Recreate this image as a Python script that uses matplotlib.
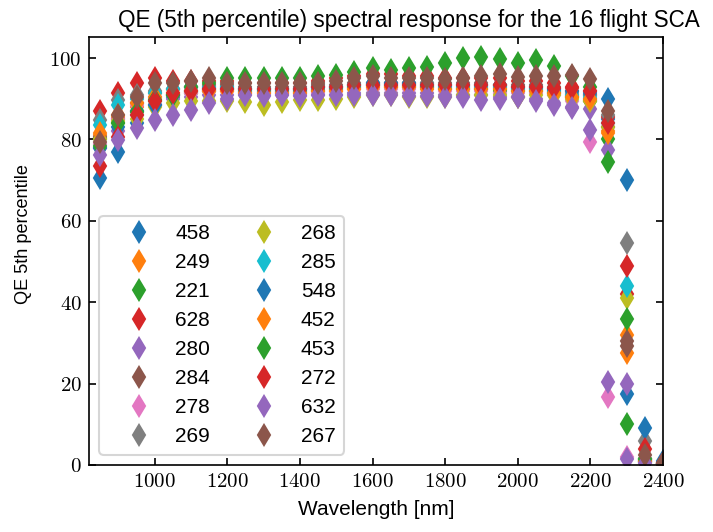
import numpy as np
import matplotlib
matplotlib.use('Agg')
import matplotlib.pyplot as plt
from matplotlib.ticker import FuncFormatter

plt.rcParams.update({
    'font.size': 10,
    'font.family': ['Liberation Sans', 'DejaVu Sans'],
    'mathtext.fontset': 'cm',
    'xtick.direction': 'in', 'ytick.direction': 'in',
    'xtick.top': True, 'ytick.right': True,
})

wavelength = [850, 900, 950, 1000, 1050, 1100, 1150, 1200, 1250, 1300, 1350,
              1400, 1450, 1500, 1550, 1600, 1650, 1700, 1750, 1800, 1850, 1900,
              1950, 2000, 2050, 2100, 2150, 2200, 2250, 2300, 2350, 2400]

sca_ids = ['458', '249', '221', '628', '280', '284', '278', '269',
           '268', '285', '548', '452', '453', '272', '632', '267']

qe_458 = [70.5, 77.0, 84.0, 88.5, 90.5, 91.5, 92.0, 92.5, 92.0, 92.0, 92.0, 92.0, 92.5, 92.5, 93.0, 93.5,
          93.5, 93.5, 93.0, 93.0, 93.0, 93.0, 93.0, 92.5, 92.5, 92.0, 91.0, 90.0, 85.0, 17.5, 1.0, 0.3]
qe_249 = [81.0, 85.5, 88.0, 90.0, 91.0, 91.5, 92.0, 92.0, 91.5, 91.5, 91.5, 91.5, 92.0, 92.0, 92.5, 93.0,
          93.0, 93.0, 93.0, 92.5, 92.5, 92.5, 92.5, 92.0, 92.0, 91.5, 90.5, 89.5, 82.0, 32.0, 1.0, 0.3]
qe_221 = [80.0, 84.0, 87.0, 89.5, 91.0, 92.0, 92.5, 92.5, 92.0, 92.0, 92.0, 92.0, 92.0, 92.5, 93.0, 93.5,
          93.0, 93.0, 93.0, 92.5, 92.5, 92.5, 92.0, 92.0, 92.0, 91.5, 90.5, 89.5, 80.0, 10.0, 0.8, 0.2]
qe_628 = [87.0, 91.5, 93.8, 95.0, 94.5, 94.5, 94.5, 94.5, 94.0, 94.0, 94.0, 94.0, 94.5, 95.0, 95.5, 96.0,
          96.0, 95.5, 95.5, 95.0, 95.0, 95.0, 95.0, 94.5, 94.5, 94.0, 92.8, 92.0, 85.5, 42.0, 1.5, 0.5]
qe_280 = [78.0, 82.0, 86.0, 88.5, 90.0, 90.5, 91.0, 91.0, 91.0, 91.0, 91.0, 91.0, 91.0, 91.0, 91.5, 91.5,
          91.5, 91.5, 91.5, 91.0, 91.0, 91.0, 90.5, 90.5, 90.0, 89.0, 88.0, 87.5, 77.5, 20.0, 1.0, 0.3]
qe_284 = [80.5, 85.0, 89.0, 91.5, 92.5, 93.0, 93.5, 93.5, 93.0, 93.0, 93.0, 93.0, 93.5, 93.5, 94.0, 94.0,
          94.0, 94.0, 94.0, 94.0, 94.0, 94.0, 93.5, 93.5, 93.5, 93.0, 92.0, 91.0, 83.0, 30.5, 1.5, 0.5]
qe_278 = [79.0, 85.0, 88.5, 90.5, 91.0, 91.5, 92.0, 92.0, 91.5, 91.5, 91.5, 91.5, 91.5, 92.0, 92.5, 92.5,
          92.5, 92.5, 92.5, 92.0, 92.0, 92.0, 91.5, 91.5, 91.5, 91.0, 89.5, 79.5, 16.8, 2.0, 0.5, 0.2]
qe_269 = [84.7, 89.7, 91.0, 92.0, 92.5, 93.0, 93.0, 93.0, 92.5, 92.5, 92.5, 92.5, 93.0, 93.0, 93.5, 94.0,
          94.0, 94.0, 94.0, 93.5, 93.5, 93.5, 93.5, 93.0, 93.0, 92.5, 91.5, 91.0, 86.0, 54.5, 5.8, 0.5]
qe_268 = [80.0, 84.5, 85.0, 88.0, 89.0, 89.5, 89.5, 89.5, 89.2, 88.6, 89.2, 89.6, 89.6, 90.0, 90.5, 91.0,
          91.0, 90.5, 90.5, 90.5, 91.0, 91.0, 91.0, 90.5, 91.0, 91.0, 90.0, 89.5, 83.0, 41.0, 1.5, 0.3]
qe_285 = [83.5, 88.4, 90.0, 91.5, 92.5, 93.0, 93.0, 93.0, 92.5, 92.5, 92.5, 92.5, 93.0, 93.0, 93.5, 93.5,
          93.5, 93.5, 93.5, 93.0, 93.0, 93.0, 93.0, 92.5, 92.5, 92.0, 91.0, 90.5, 84.0, 44.0, 1.5, 0.3]
qe_548 = [78.0, 83.0, 87.0, 88.4, 91.0, 92.0, 92.5, 92.5, 92.5, 92.5, 92.5, 92.5, 93.0, 93.0, 93.5, 94.0,
          94.0, 94.0, 93.5, 93.5, 93.5, 93.5, 93.5, 93.0, 93.0, 92.5, 92.0, 91.5, 90.0, 70.0, 9.0, 1.0]
qe_452 = [81.5, 86.0, 89.0, 90.5, 91.5, 92.0, 92.0, 92.0, 91.5, 91.5, 91.5, 91.5, 92.0, 92.0, 92.5, 93.0,
          93.0, 93.0, 92.5, 92.5, 92.5, 92.5, 92.5, 92.0, 92.0, 91.5, 90.5, 90.0, 81.5, 27.5, 1.0, 0.3]
qe_453 = [78.5, 84.0, 86.7, 89.7, 91.0, 93.0, 94.0, 95.2, 95.0, 95.2, 95.0, 95.2, 95.5, 95.8, 96.6, 97.5,
          97.0, 97.5, 97.8, 98.7, 100.0, 100.3, 99.8, 98.8, 99.5, 98.0, 95.5, 93.0, 74.5, 36.0, 1.5, 0.3]
qe_272 = [73.6, 80.5, 86.0, 89.5, 91.5, 92.0, 92.5, 92.5, 92.5, 92.5, 92.5, 92.5, 93.0, 93.0, 93.5, 93.5,
          93.5, 93.5, 93.5, 93.5, 93.5, 93.5, 93.5, 93.0, 93.0, 92.6, 92.6, 92.0, 84.0, 49.0, 4.0, 0.5]
qe_632 = [76.1, 79.8, 82.8, 84.7, 86.0, 87.2, 88.9, 90.0, 91.0, 90.8, 91.0, 90.8, 91.0, 91.0, 91.0, 91.0,
          91.0, 90.8, 90.8, 90.5, 90.5, 89.7, 90.0, 90.4, 89.5, 88.4, 87.7, 82.3, 20.5, 1.5, 0.5, 0.2]
qe_267 = [79.3, 86.0, 90.4, 93.8, 94.0, 94.5, 95.0, 94.0, 94.0, 93.8, 93.8, 94.0, 94.0, 94.5, 95.0, 95.5,
          95.0, 95.0, 95.0, 94.8, 95.0, 95.5, 96.0, 95.3, 95.5, 95.5, 95.8, 94.8, 87.0, 29.3, 2.5, 0.5]

qe_all = [qe_458, qe_249, qe_221, qe_628, qe_280, qe_284, qe_278, qe_269,
          qe_268, qe_285, qe_548, qe_452, qe_453, qe_272, qe_632, qe_267]

fig = plt.figure(figsize=(713 / 150, 532 / 150), dpi=150)
ax = fig.add_axes([0.1248, 0.126, 0.805, 0.8045])

for sca, qe in zip(sca_ids, qe_all):
    ax.plot(wavelength, qe, 'd', ms=7, ls='none', label=sca)

ax.set_xlim(819, 2400)
ax.set_ylim(0, 105.2)
ax.set_xticks([1000, 1200, 1400, 1600, 1800, 2000, 2200, 2400])
ax.set_yticks([0, 20, 40, 60, 80, 100])
fmt = FuncFormatter(lambda v, p: f'${v:.0f}$')
ax.xaxis.set_major_formatter(fmt)
ax.yaxis.set_major_formatter(fmt)

ax.set_xlabel('Wavelength [nm]')
ax.set_ylabel('QE 5th percentile', fontsize=8.7)
ax.yaxis.set_label_coords(-0.1, 0.54)
ax.set_title('QE (5th percentile) spectral response for the 16 flight SCA',
             x=0.557, pad=5, fontsize=10.8)

ax.legend(loc='lower left', ncol=2, handlelength=3, handletextpad=0.25,
          columnspacing=1.1, labelspacing=0.48)

fig.savefig('out.png', dpi=150)
